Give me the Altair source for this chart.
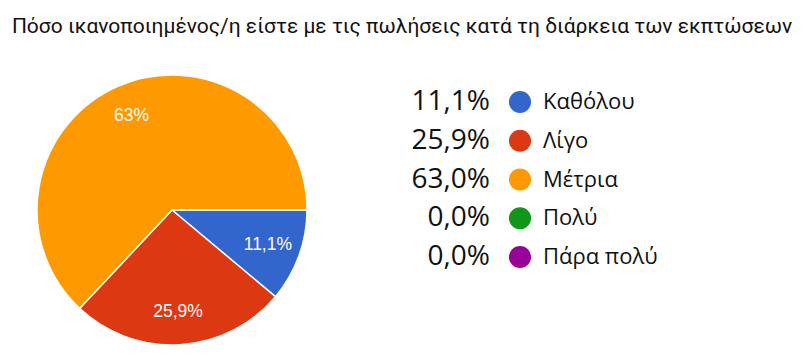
import math
import altair as alt
import pandas as pd

title_text = "Πόσο ικανοποιημένος/η είστε με τις πωλήσεις κατά τη διάρκεια των εκπτώσεων"
categories = ["Καθόλου", "Λίγο", "Μέτρια", "Πολύ", "Πάρα πολύ"]
percents = [11.1, 25.9, 63.0, 0.0, 0.0]
legend_labels = ["11,1%", "25,9%", "63,0%", "0,0%", "0,0%"]
slice_labels = ["11,1%", "25,9%", "63%", "", ""]
colors = ["#3366cc", "#dc3912", "#ff9900", "#109618", "#990099"]

df = pd.DataFrame({
    "cat": categories,
    "pct": percents,
    "idx": list(range(len(categories))),
    "legend": legend_labels,
    "slice": slice_labels,
})

color = alt.Color("cat:N", scale=alt.Scale(domain=categories, range=colors), legend=None)
theta = alt.Theta("pct:Q", stack=True,
                  scale=alt.Scale(range=[math.pi / 2, math.pi / 2 + 2 * math.pi]))
order = alt.Order("idx:Q", sort="ascending")

cx, cy = 164, 162

base = alt.Chart(df)

pie = base.mark_arc(outerRadius=135, stroke="white", strokeWidth=1.5).encode(
    theta=theta, color=color, order=order,
    x=alt.value(cx), y=alt.value(cy),
)

pie_text = base.transform_filter("datum.pct > 0").mark_text(
    radius=102, fontSize=17.5, font="Liberation Sans, Arial", color="white"
).encode(
    theta=theta, order=order, text="slice:N",
    x=alt.value(cx), y=alt.value(cy),
)

yenc = alt.Y("cat:N", sort=categories,
             scale=alt.Scale(type="point", range=[54, 209], padding=0), axis=None)

leg_pct = base.mark_text(align="right", baseline="middle", fontSize=28,
                         font="Open Sans", color="#111").encode(
    y=yenc, x=alt.value(482), text="legend:N")

leg_dot = base.mark_point(filled=True, size=490, opacity=1, shape="circle").encode(
    y=yenc, x=alt.value(512), color=color)

leg_lab = base.mark_text(align="left", baseline="middle", fontSize=22,
                         font="Open Sans", color="#111").encode(
    y=yenc, x=alt.value(535), text="cat:N")

chart = alt.layer(pie, pie_text, leg_pct, leg_dot, leg_lab).properties(
    width=788, height=306,
    padding={"left": 0, "top": 40, "right": 0, "bottom": 0},
    autosize=alt.AutoSizeParams(type="none"),
    title=alt.TitleParams(title_text, fontSize=21, font="Roboto",
                          fontWeight="normal", anchor="middle", baseline="alphabetic",
                          offset=-6, color="#111"),
).configure_view(stroke=None)

chart.save("out.html", embed_options={"renderer": "svg", "actions": False})
